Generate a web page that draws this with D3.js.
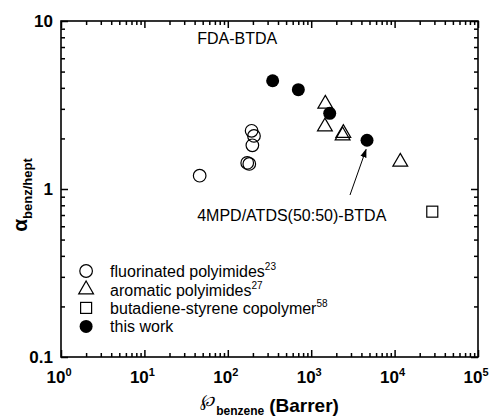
<!DOCTYPE html>
<html>
<head>
<meta charset="utf-8">
<script src="https://cdn.jsdelivr.net/npm/d3@7"></script>
<style>
  html, body { margin: 0; padding: 0; background: #fff; }
  svg { display: block; }
  text { font-family: Arial, "Liberation Sans", sans-serif; fill: #000; }
</style>
</head>
<body>
<svg id="chart" width="491" height="418"></svg>
<script>
// Benzene permeability (Barrer) vs benzene/heptane selectivity
const fluorinatedX = [46, 193, 206, 197, 171, 181];
const fluorinatedY = [1.2, 2.22, 2.07, 1.82, 1.43, 1.41];

const aromaticX = [1476, 1460, 2427, 2380, 11700];
const aromaticY = [3.21, 2.35, 2.15, 2.08, 1.45];

const butadieneX = [28300];
const butadieneY = [0.733];

const thisWorkX = [345, 701, 1667, 4670];
const thisWorkY = [4.41, 3.90, 2.82, 1.95];

const xTickExponents = [0, 1, 2, 3, 4, 5];
const yTickValues = [0.1, 1, 10];
const yTickLabels = ["0.1", "1", "10"];

const legendNames = ["fluorinated polyimides", "aromatic polyimides", "butadiene-styrene copolymer", "this work"];
const legendRefs = ["23", "27", "58", ""];

const margin = { left: 61, top: 21, right: 13, bottom: 61 };
const W = 491, H = 418;
const pw = W - margin.left - margin.right;
const ph = H - margin.top - margin.bottom;

const svg = d3.select("#chart");
const g = svg.append("g").attr("transform", `translate(${margin.left},${margin.top})`);

const x = d3.scaleLog().domain([1, 1e5]).range([0, pw]);
const y = d3.scaleLog().domain([0.1, 10]).range([ph, 0]);

// major and minor tick values on both log axes
const xMajor = xTickExponents.map(e => Math.pow(10, e));
const xMinor = [];
for (let e = 0; e < 5; e++) for (let m = 2; m <= 9; m++) xMinor.push(m * Math.pow(10, e));
const yMinor = [];
for (let e = -1; e < 1; e++) for (let m = 2; m <= 9; m++) yMinor.push(m * Math.pow(10, e));

const majorLen = 7, minorLen = 4;
function styleAxis(sel) {
  sel.select(".domain").remove();
  sel.selectAll("line").attr("stroke", "#000").attr("stroke-width", 1.5);
  sel.selectAll("text").remove();
}
// bottom / top
g.append("g").attr("transform", `translate(0,${ph})`)
  .call(d3.axisBottom(x).tickValues(xMajor).tickSize(-majorLen).tickFormat("")).call(styleAxis);
g.append("g").attr("transform", `translate(0,${ph})`)
  .call(d3.axisBottom(x).tickValues(xMinor).tickSize(-minorLen).tickFormat("")).call(styleAxis);
g.append("g")
  .call(d3.axisTop(x).tickValues(xMajor).tickSize(-majorLen).tickFormat("")).call(styleAxis);
g.append("g")
  .call(d3.axisTop(x).tickValues(xMinor).tickSize(-minorLen).tickFormat("")).call(styleAxis);
// left / right
g.append("g")
  .call(d3.axisLeft(y).tickValues(yTickValues).tickSize(-majorLen).tickFormat("")).call(styleAxis);
g.append("g")
  .call(d3.axisLeft(y).tickValues(yMinor).tickSize(-minorLen).tickFormat("")).call(styleAxis);
g.append("g").attr("transform", `translate(${pw},0)`)
  .call(d3.axisRight(y).tickValues(yTickValues).tickSize(-majorLen).tickFormat("")).call(styleAxis);
g.append("g").attr("transform", `translate(${pw},0)`)
  .call(d3.axisRight(y).tickValues(yMinor).tickSize(-minorLen).tickFormat("")).call(styleAxis);

// frame
g.append("rect").attr("width", pw).attr("height", ph)
  .attr("fill", "none").attr("stroke", "#000").attr("stroke-width", 1.6);

// x tick labels: 10 with superscript exponent
xTickExponents.forEach(e => {
  const t = g.append("text")
    .attr("x", x(Math.pow(10, e)) - 2).attr("y", ph + 26)
    .attr("text-anchor", "middle")
    .style("font-size", "17px").style("font-weight", "bold");
  t.append("tspan").text("10");
  t.append("tspan").attr("dy", -7).style("font-size", "11px").text(String(e));
});

// y tick labels
yTickValues.forEach((v, i) => {
  g.append("text")
    .attr("x", -8).attr("y", y(v) + 6)
    .attr("text-anchor", "end")
    .style("font-size", "17px").style("font-weight", "bold")
    .text(yTickLabels[i]);
});

// axis titles
const xt = svg.append("text")
  .attr("x", margin.left + pw / 2).attr("y", 412)
  .attr("text-anchor", "middle");
xt.append("tspan").style("font-family", "'DejaVu Serif', serif").style("font-style", "italic")
  .style("font-size", "17px").attr("dy", -6).text("\u2118");
xt.append("tspan").style("font-size", "12px").style("font-weight", "bold").attr("dx", 2).attr("dy", 9).text("benzene");
xt.append("tspan").style("font-size", "19px").style("font-weight", "bold").attr("dx", 5).attr("dy", -3).text("(Barrer)");

const yt = svg.append("text")
  .attr("transform", `translate(27,${margin.top + ph / 2 + 6}) rotate(-90)`)
  .attr("text-anchor", "middle");
yt.append("tspan").style("font-size", "21px").style("font-weight", "bold").text("\u03b1");
yt.append("tspan").style("font-size", "13px").style("font-weight", "bold").attr("dy", 5).text("benz/hept");

// markers
const circR = 6.3;
const triPath = d3.symbol().type(d3.symbolTriangle).size(95)();
const sqSide = 11;

g.append("g").selectAll("circle").data(d3.zip(fluorinatedX, fluorinatedY)).join("circle")
  .attr("cx", d => x(d[0])).attr("cy", d => y(d[1])).attr("r", circR)
  .attr("fill", "none").attr("stroke", "#000").attr("stroke-width", 1.2);

g.append("g").selectAll("path").data(d3.zip(aromaticX, aromaticY)).join("path")
  .attr("d", triPath)
  .attr("transform", d => `translate(${x(d[0])},${y(d[1])})`)
  .attr("fill", "none").attr("stroke", "#000").attr("stroke-width", 1.2);

g.append("g").selectAll("rect").data(d3.zip(butadieneX, butadieneY)).join("rect")
  .attr("x", d => x(d[0]) - sqSide / 2).attr("y", d => y(d[1]) - sqSide / 2)
  .attr("width", sqSide).attr("height", sqSide)
  .attr("fill", "none").attr("stroke", "#000").attr("stroke-width", 1.2);

g.append("g").selectAll("circle").data(d3.zip(thisWorkX, thisWorkY)).join("circle")
  .attr("cx", d => x(d[0])).attr("cy", d => y(d[1])).attr("r", 6.5)
  .attr("fill", "#000");

// annotations
g.append("text").attr("x", x(43)).attr("y", y(7.3))
  .style("font-size", "16px").text("FDA-BTDA");
g.append("text").attr("x", x(43)).attr("y", y(0.645))
  .style("font-size", "16px").text("4MPD/ATDS(50:50)-BTDA");

svg.append("defs").append("marker")
  .attr("id", "head").attr("viewBox", "0 0 10 10").attr("refX", 9).attr("refY", 5)
  .attr("markerWidth", 9).attr("markerHeight", 9).attr("orient", "auto")
  .attr("markerUnits", "userSpaceOnUse")
  .append("path").attr("d", "M0,1.5 L10,5 L0,8.5 Z").attr("fill", "#000");
g.append("line")
  .attr("x1", x(2918)).attr("y1", y(0.921))
  .attr("x2", x(4550)).attr("y2", y(1.72))
  .attr("stroke", "#000").attr("stroke-width", 1)
  .attr("marker-end", "url(#head)");

// legend
const legend = g.append("g").attr("transform", `translate(${x(2)},0)`);
const rowY = [y(0.325), y(0.252), y(0.196), y(0.152)];
legendNames.forEach((name, i) => {
  const row = legend.append("g").attr("transform", `translate(0,${rowY[i]})`);
  if (i === 0) row.append("circle").attr("r", circR).attr("fill", "none").attr("stroke", "#000").attr("stroke-width", 1.2);
  if (i === 1) row.append("path").attr("d", triPath).attr("fill", "none").attr("stroke", "#000").attr("stroke-width", 1.2);
  if (i === 2) row.append("rect").attr("x", -sqSide / 2).attr("y", -sqSide / 2).attr("width", sqSide).attr("height", sqSide)
    .attr("fill", "none").attr("stroke", "#000").attr("stroke-width", 1.2);
  if (i === 3) row.append("circle").attr("r", 6.5).attr("fill", "#000");
  const t = row.append("text").attr("x", 24).attr("y", 6).style("font-size", "16px");
  t.append("tspan").text(name);
  if (legendRefs[i]) t.append("tspan").attr("dy", -7).style("font-size", "10px").text(legendRefs[i]);
});
</script>
</body>
</html>
